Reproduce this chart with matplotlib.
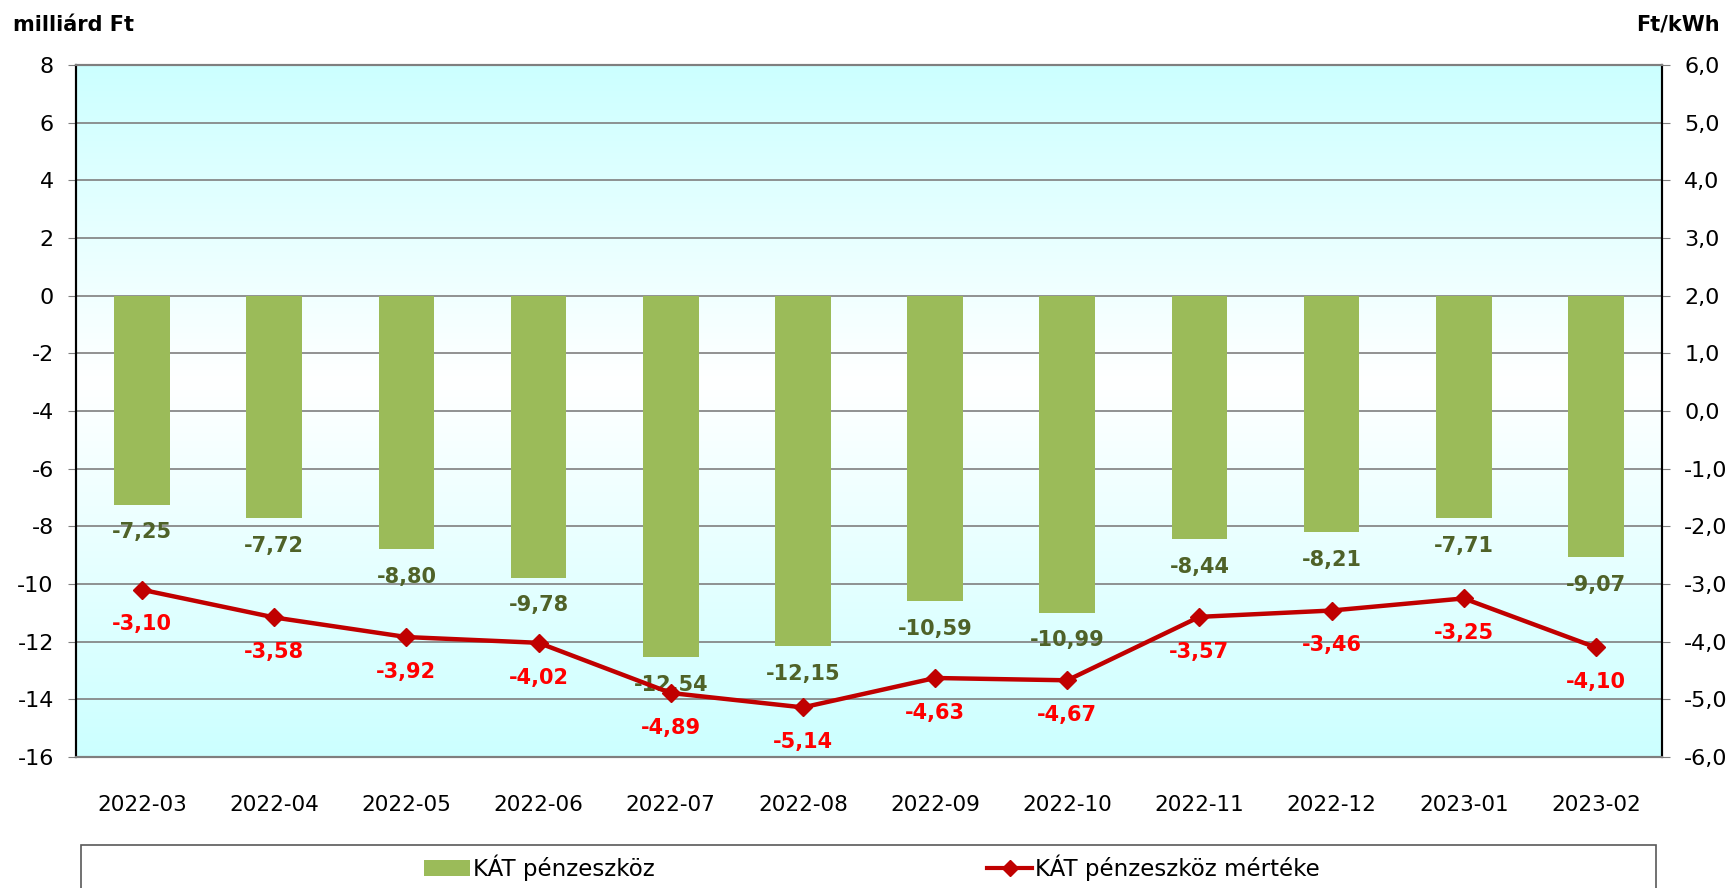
import matplotlib
matplotlib.use("Agg")
import matplotlib.pyplot as plt
import numpy as np
from matplotlib.colors import LinearSegmentedColormap
from matplotlib.patches import Rectangle, Patch
from matplotlib.lines import Line2D

months = ["2022-03", "2022-04", "2022-05", "2022-06", "2022-07", "2022-08",
          "2022-09", "2022-10", "2022-11", "2022-12", "2023-01", "2023-02"]
kat_bn = [-7.25, -7.72, -8.80, -9.78, -12.54, -12.15, -10.59, -10.99, -8.44, -8.21, -7.71, -9.07]
kat_rate = [-3.10, -3.58, -3.92, -4.02, -4.89, -5.14, -4.63, -4.67, -3.57, -3.46, -3.25, -4.10]
left_ticks = list(range(-16, 9, 2))
right_ticks = list(range(-6, 7, 1))

plt.rcParams['font.family'] = ['DejaVu Sans']
W, H = 1728, 888
fig = plt.figure(figsize=(W / 100, H / 100), dpi=100)
L, R, T, B = 76, 1662, 65, 757
ax = fig.add_axes([L / W, 1 - B / H, (R - L) / W, (B - T) / H])
ax2 = ax.twinx()

x = np.arange(len(months))
ax.set_xlim(-0.5, len(months) - 0.5)
ax.set_ylim(-16, 8)
ax2.set_ylim(-6, 6)

# background gradient
cmap = LinearSegmentedColormap.from_list(
    "bg", [(0, "#CCFFFF"), (13 / 24, "#FFFFFF"), (1, "#CCFFFF")])
grad = np.linspace(0, 1, 256).reshape(-1, 1)
ax.imshow(grad, cmap=cmap, aspect="auto", origin="lower",
          extent=[-0.5, len(months) - 0.5, -16, 8], zorder=0)

ax.set_yticks(left_ticks)
ax.yaxis.grid(True, color="#7F7F7F", lw=1.2, zorder=1)
ax.set_axisbelow(True)

bars = ax.bar(x, kat_bn, width=0.42, color="#9BBB59", zorder=2)
for xi, v in zip(x, kat_bn):
    ax.annotate(f"{v:.2f}".replace(".", ","), (xi, v), xytext=(0, -20),
                textcoords="offset points", ha="center", va="center",
                fontsize=15, fontweight="bold", color="#4F6228", zorder=3)

ax2.plot(x, kat_rate, color="#C00000", lw=3.2, marker="D", markersize=9.5, zorder=4)
for xi, v in zip(x, kat_rate):
    ax2.annotate(f"{v:.2f}".replace(".", ","), (xi, v), xytext=(0, -25),
                 textcoords="offset points", ha="center", va="center",
                 fontsize=15, fontweight="bold", color="#FF0000", zorder=5)

ax2.set_yticks(right_ticks)
ax2.set_yticklabels([f"{t:.1f}".replace(".", ",") for t in right_ticks])
ax.set_yticklabels([str(t) for t in left_ticks])
ax.set_xticks(x)
ax.set_xticklabels(months)

ax.tick_params(axis="y", direction="out", length=6, color="#7F7F7F", labelsize=16, pad=10)
ax2.tick_params(axis="y", direction="out", length=6, color="#7F7F7F", labelsize=16, pad=10)
ax.tick_params(axis="x", length=0, labelsize=15.5, pad=27)

for a in (ax, ax2):
    a.spines["left"].set_color("black")
    a.spines["right"].set_color("black")
    a.spines["left"].set_linewidth(1.5)
    a.spines["right"].set_linewidth(1.5)
    a.spines["top"].set_color("#7F7F7F")
    a.spines["bottom"].set_color("#7F7F7F")
    a.spines["top"].set_linewidth(1.5)
    a.spines["bottom"].set_linewidth(1.5)

fig.text(13 / W, 1 - 25 / H, "milliárd Ft", fontsize=15, fontweight="bold", va="center", ha="left")
fig.text(1720 / W, 1 - 25 / H, "Ft/kWh", fontsize=15, fontweight="bold", va="center", ha="right")

# legend box
box = Rectangle((81 / W, -0.05), (1656 - 81) / W, 0.05 + (H - 845) / H,
                transform=fig.transFigure, facecolor="white", edgecolor="#595959",
                lw=1.2, clip_on=False)
fig.patches.append(box)
handles = [Patch(facecolor="#9BBB59", edgecolor="none"),
           Line2D([], [], color="#C00000", lw=3, marker="D", markersize=8)]
fig.legend(handles, ["KÁT pénzeszköz", "KÁT pénzeszköz mértéke"], loc="center",
           bbox_to_anchor=(872 / W, 1 - 868 / H), ncol=2, frameon=False,
           fontsize=16.5, columnspacing=14.5, handlelength=2.0, handletextpad=0.1)

fig.savefig("out.png", dpi=100)
